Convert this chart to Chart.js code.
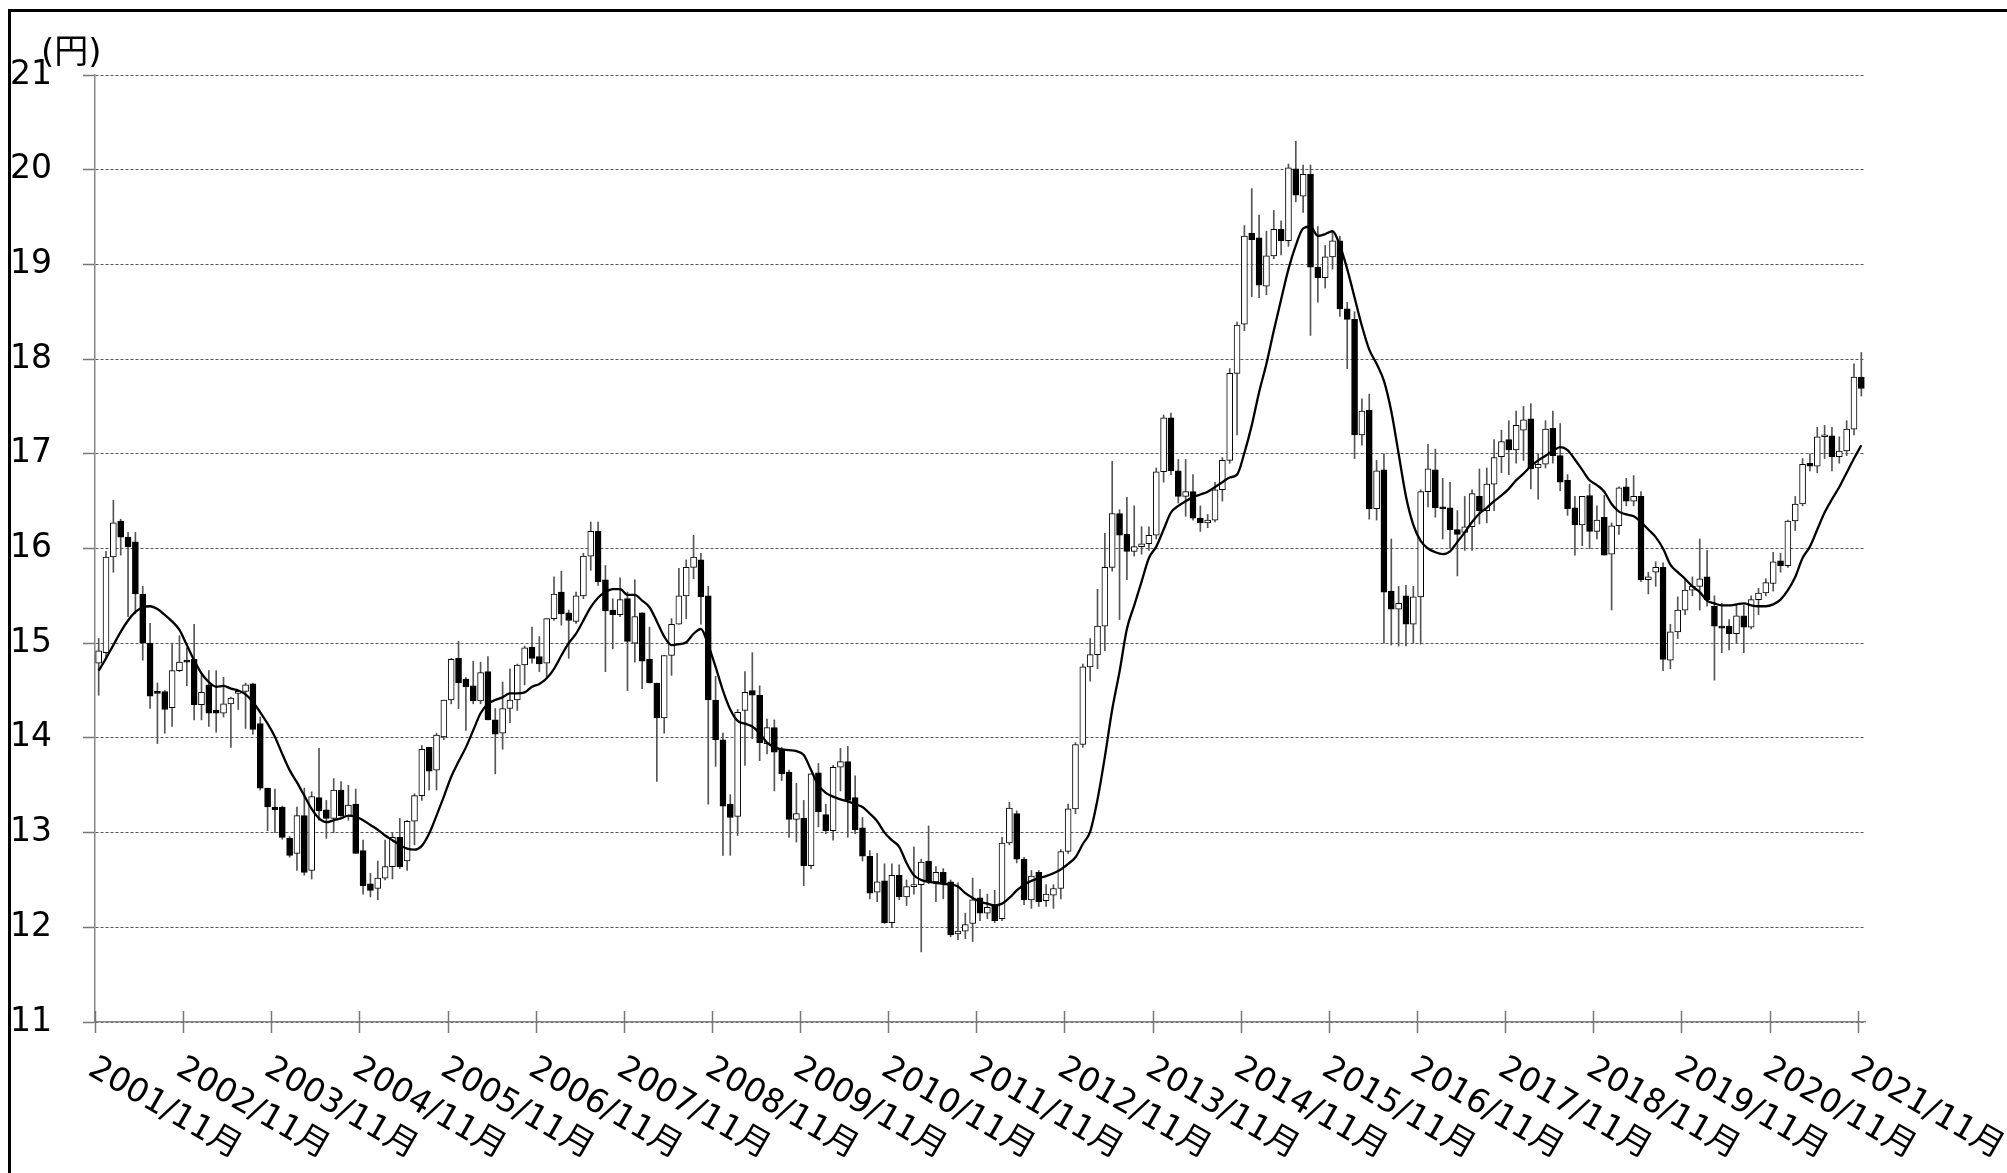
<!DOCTYPE html>
<html lang="ja">
<head>
<meta charset="utf-8">
<title>人民元/円 月足</title>
<script src="https://cdn.jsdelivr.net/npm/chart.js@4.4.1/dist/chart.umd.min.js"></script>
<style>
  html, body { margin: 0; padding: 0; background: #fff; }
  canvas { display: block; }
</style>
</head>
<body>
<canvas id="chart" width="2007" height="1173"></canvas>
<script>
'use strict';
// monthly candles, 2001/11 .. 2021/11 (index 0 = 2001/11)
let opens = [
  14.79, 14.90, 15.91, 16.29, 16.12, 16.07, 15.52, 15.00, 14.48, 14.49, 14.32, 14.71,
  14.81, 14.83, 14.35, 14.56, 14.29, 14.26, 14.36, 14.47, 14.49, 14.57, 14.15, 13.47,
  13.27, 13.27, 12.94, 12.78, 13.18, 12.60, 13.37, 13.24, 13.15, 13.45, 13.18, 13.30,
  12.81, 12.46, 12.41, 12.52, 12.64, 12.95, 12.70, 13.12, 13.39, 13.90, 13.66, 14.01,
  14.40, 14.84, 14.62, 14.55, 14.39, 14.70, 14.19, 14.05, 14.31, 14.40, 14.77, 14.96,
  14.86, 14.79, 15.26, 15.54, 15.32, 15.23, 15.50, 15.92, 16.18, 15.67, 15.35, 15.30,
  15.47, 15.00, 15.32, 14.83, 14.58, 14.21, 14.87, 15.20, 15.50, 15.80, 15.88, 15.50,
  14.40, 13.98, 13.30, 13.17, 14.29, 14.50, 14.45, 13.94, 14.11, 13.88, 13.64, 13.14,
  13.15, 12.65, 13.63, 13.19, 13.02, 13.69, 13.75, 13.37, 13.05, 12.75, 12.37, 12.49,
  12.05, 12.55, 12.32, 12.43, 12.45, 12.70, 12.48, 12.58, 12.48, 11.93, 11.96, 12.04,
  12.31, 12.15, 12.23, 12.09, 12.89, 13.20, 12.72, 12.29, 12.58, 12.28, 12.34, 12.41,
  12.80, 13.25, 13.93, 14.75, 14.88, 15.18, 15.80, 16.37, 16.15, 15.97, 16.02, 16.05,
  16.14, 16.81, 17.38, 16.82, 16.55, 16.60, 16.32, 16.27, 16.30, 16.62, 16.93, 17.85,
  18.37, 19.33, 19.28, 18.77, 19.09, 19.37, 19.25, 20.01, 19.72, 19.95, 18.97, 18.86,
  19.08, 19.25, 18.53, 18.42, 17.20, 17.46, 16.42, 16.83, 15.55, 15.36, 15.50, 15.20,
  15.49, 16.60, 16.83, 16.43, 16.43, 16.20, 16.17, 16.23, 16.55, 16.40, 16.68, 16.97,
  17.15, 17.04, 17.25, 17.37, 16.85, 16.89, 17.27, 16.98, 16.72, 16.43, 16.25, 16.56,
  16.18, 16.33, 15.94, 16.24, 16.65, 16.50, 16.55, 15.67, 15.75, 15.80, 14.82, 15.12,
  15.35, 15.56, 15.60, 15.70, 15.39, 15.18, 15.18, 15.10, 15.29, 15.17, 15.46, 15.53,
  15.63, 15.87, 15.82, 16.29, 16.47, 16.90, 16.87, 17.18, 17.19, 16.97, 17.03, 17.26,
  17.81
];
let highs = [
  15.05, 15.97, 16.51, 16.31, 16.17, 16.17, 15.60, 15.21, 14.58, 14.50, 15.00, 15.08,
  14.95, 15.20, 14.66, 14.71, 14.71, 14.64, 14.43, 14.50, 14.58, 14.58, 14.22, 13.47,
  13.46, 13.28, 12.96, 13.27, 13.47, 13.43, 13.89, 13.34, 13.57, 13.54, 13.50, 13.46,
  12.92, 12.57, 12.70, 12.92, 13.00, 13.15, 13.13, 13.41, 13.92, 13.90, 14.05, 14.40,
  14.84, 15.02, 14.64, 14.81, 14.80, 14.86, 14.31, 14.59, 14.73, 14.78, 14.97, 15.17,
  15.07, 15.26, 15.70, 15.76, 15.35, 15.54, 15.95, 16.28, 16.28, 15.82, 15.47, 15.69,
  15.54, 15.67, 15.32, 15.17, 14.58, 14.87, 15.26, 15.79, 15.88, 16.14, 15.95, 15.60,
  14.65, 14.05, 13.40, 14.30, 14.70, 14.90, 14.55, 14.20, 14.19, 13.90, 13.66, 13.52,
  13.34, 13.62, 13.73, 13.30, 13.71, 13.89, 13.91, 13.60, 13.16, 12.81, 12.78, 12.67,
  12.67, 12.66, 12.50, 12.85, 12.72, 13.07, 12.64, 12.62, 12.50, 12.47, 12.15, 12.52,
  12.40, 12.35, 12.39, 12.95, 13.32, 13.23, 12.74, 12.60, 12.60, 12.45, 12.45, 12.82,
  13.30, 13.95, 14.78, 15.05, 15.57, 16.16, 16.92, 16.41, 16.54, 16.45, 16.23, 16.23,
  16.85, 17.41, 17.43, 16.94, 16.94, 16.78, 16.45, 16.36, 16.70, 16.96, 17.90, 18.39,
  19.41, 19.80, 19.52, 19.35, 19.57, 19.46, 20.06, 20.30, 20.05, 20.05, 19.40, 19.20,
  19.35, 19.30, 18.60, 18.50, 17.58, 17.63, 16.93, 17.00, 16.10, 15.60, 15.61, 15.60,
  16.62, 17.10, 17.05, 16.74, 16.70, 16.40, 16.55, 16.62, 16.84, 16.85, 17.15, 17.25,
  17.35, 17.45, 17.50, 17.53, 17.00, 17.35, 17.45, 17.32, 16.78, 16.55, 16.55, 16.68,
  16.45, 16.56, 16.27, 16.65, 16.74, 16.77, 16.60, 15.75, 15.86, 15.85, 15.20, 15.49,
  15.68, 15.70, 16.10, 15.98, 15.50, 15.42, 15.25, 15.40, 15.40, 15.50, 15.58, 15.68,
  15.96, 15.95, 16.30, 16.55, 16.95, 17.00, 17.28, 17.30, 17.28, 17.18, 17.35, 17.95,
  18.07
];
let lows = [
  14.45, 14.85, 15.75, 15.93, 15.28, 15.31, 14.82, 14.31, 13.94, 14.05, 14.12, 14.70,
  14.55, 14.19, 14.19, 14.12, 14.06, 14.22, 13.90, 14.30, 14.10, 14.04, 13.45, 13.02,
  13.00, 12.93, 12.74, 12.60, 12.55, 12.51, 13.13, 12.94, 13.00, 13.17, 13.13, 12.78,
  12.35, 12.32, 12.29, 12.50, 12.51, 12.62, 12.60, 12.87, 13.34, 13.45, 13.45, 13.98,
  14.36, 14.31, 14.08, 14.36, 14.36, 14.19, 13.62, 13.88, 14.16, 14.29, 14.56, 14.79,
  14.70, 14.64, 15.24, 15.19, 14.84, 15.21, 15.47, 15.77, 15.61, 14.70, 14.94, 15.28,
  14.50, 14.80, 14.52, 14.58, 13.54, 14.05, 14.66, 15.20, 15.26, 15.68, 15.20, 13.30,
  13.70, 12.76, 12.76, 12.97, 13.71, 13.99, 13.76, 13.83, 13.44, 13.55, 12.95, 12.90,
  12.44, 12.62, 13.06, 12.99, 12.92, 13.44, 12.95, 12.99, 12.70, 12.30, 12.27, 12.04,
  12.00, 12.29, 12.23, 12.35, 11.74, 12.46, 12.27, 12.30, 11.90, 11.87, 11.88, 11.85,
  12.07, 12.09, 12.05, 12.07, 12.87, 12.68, 12.24, 12.20, 12.22, 12.22, 12.20, 12.30,
  12.78, 13.20, 13.90, 14.60, 14.73, 14.92, 15.76, 15.25, 15.67, 15.92, 15.94, 15.98,
  16.10, 16.70, 16.78, 16.48, 16.34, 16.30, 16.18, 16.22, 16.28, 16.50, 16.90, 17.20,
  18.30, 18.66, 18.65, 18.68, 19.06, 19.10, 19.19, 19.66, 19.55, 18.25, 18.60, 18.75,
  18.95, 18.45, 17.90, 16.95, 17.09, 16.31, 16.30, 15.00, 14.98, 14.97, 14.97, 15.00,
  14.99, 16.44, 16.33, 16.10, 16.00, 15.71, 15.98, 15.98, 16.26, 16.27, 16.40, 16.80,
  16.78, 16.90, 16.93, 16.63, 16.52, 16.85, 16.90, 16.61, 16.35, 15.93, 16.03, 16.00,
  16.10, 15.93, 15.35, 16.15, 16.45, 16.45, 15.65, 15.52, 15.60, 14.71, 14.73, 15.05,
  15.30, 15.50, 15.35, 15.39, 14.61, 14.90, 14.93, 15.00, 14.90, 15.15, 15.30, 15.50,
  15.55, 15.75, 15.80, 16.19, 16.45, 16.82, 16.80, 16.95, 16.82, 16.90, 16.98, 17.20,
  17.61
];
let closes = [
  14.92, 15.91, 16.27, 16.12, 16.02, 15.52, 15.00, 14.44, 14.47, 14.30, 14.71, 14.80,
  14.80, 14.35, 14.48, 14.26, 14.26, 14.36, 14.42, 14.49, 14.56, 14.09, 13.47, 13.27,
  13.24, 12.95, 12.76, 13.18, 12.58, 13.38, 13.23, 13.15, 13.45, 13.18, 13.29, 12.78,
  12.44, 12.39, 12.52, 12.64, 12.95, 12.64, 13.12, 13.39, 13.88, 13.65, 14.03, 14.40,
  14.83, 14.58, 14.54, 14.39, 14.69, 14.19, 14.04, 14.31, 14.40, 14.77, 14.95, 14.84,
  14.78, 15.26, 15.52, 15.31, 15.24, 15.50, 15.92, 16.18, 15.65, 15.34, 15.30, 15.46,
  15.02, 15.28, 14.81, 14.58, 14.21, 14.87, 15.20, 15.50, 15.80, 15.91, 15.49, 14.40,
  13.98, 13.28, 13.16, 14.27, 14.48, 14.45, 13.95, 14.11, 13.85, 13.62, 13.14, 13.20,
  12.65, 13.62, 13.22, 13.02, 13.69, 13.75, 13.34, 13.03, 12.75, 12.36, 12.48, 12.05,
  12.55, 12.32, 12.43, 12.45, 12.69, 12.48, 12.58, 12.46, 11.92, 11.96, 12.03, 12.29,
  12.15, 12.21, 12.07, 12.89, 13.26, 12.72, 12.29, 12.54, 12.27, 12.35, 12.41, 12.80,
  13.25, 13.93, 14.75, 14.88, 15.18, 15.80, 16.37, 16.14, 15.97, 16.02, 16.05, 16.14,
  16.81, 17.38, 16.82, 16.55, 16.60, 16.32, 16.27, 16.30, 16.62, 16.93, 17.85, 18.36,
  19.30, 19.26, 18.78, 19.09, 19.37, 19.25, 20.02, 19.73, 19.95, 18.97, 18.86, 19.08,
  19.25, 18.53, 18.42, 17.20, 17.45, 16.42, 16.82, 15.54, 15.36, 15.42, 15.20, 15.49,
  16.60, 16.84, 16.43, 16.42, 16.20, 16.15, 16.23, 16.58, 16.40, 16.68, 16.96, 17.13,
  17.04, 17.30, 17.36, 16.84, 16.89, 17.26, 16.98, 16.70, 16.42, 16.25, 16.55, 16.18,
  16.30, 15.93, 16.24, 16.64, 16.50, 16.55, 15.67, 15.70, 15.80, 14.83, 15.12, 15.35,
  15.56, 15.60, 15.68, 15.46, 15.18, 15.16, 15.10, 15.29, 15.17, 15.46, 15.53, 15.64,
  15.86, 15.82, 16.29, 16.47, 16.89, 16.87, 17.18, 17.19, 16.97, 17.03, 17.26, 17.81,
  17.69
];
// moving average line
let maValues = [
  14.71, 14.84, 14.98, 15.12, 15.24, 15.33, 15.38, 15.39, 15.36, 15.30, 15.23, 15.14,
  14.98, 14.82, 14.68, 14.59, 14.54, 14.55, 14.52, 14.50, 14.46, 14.38, 14.27, 14.15,
  14.01, 13.83, 13.66, 13.53, 13.39, 13.25, 13.15, 13.11, 13.13, 13.15, 13.18, 13.17,
  13.13, 13.08, 13.03, 12.97, 12.92, 12.87, 12.83, 12.82, 12.86, 12.99, 13.18, 13.38,
  13.59, 13.75, 13.90, 14.08, 14.26, 14.36, 14.40, 14.43, 14.47, 14.47, 14.48, 14.54,
  14.57, 14.63, 14.73, 14.87, 15.00, 15.10, 15.24, 15.38, 15.48, 15.54, 15.57, 15.57,
  15.51, 15.51, 15.45, 15.38, 15.23, 15.07, 14.98, 14.99, 15.01, 15.10, 15.15, 14.98,
  14.75, 14.50, 14.30, 14.18, 14.15, 14.12, 14.05, 13.95, 13.90, 13.88, 13.87, 13.86,
  13.82, 13.66, 13.50, 13.42, 13.38, 13.35, 13.33, 13.30, 13.27, 13.20, 13.12, 13.00,
  12.92, 12.85, 12.68, 12.55, 12.50, 12.48, 12.47, 12.46, 12.45, 12.43, 12.36, 12.31,
  12.27, 12.25, 12.23, 12.25, 12.31, 12.39, 12.45, 12.49, 12.52, 12.54, 12.57, 12.61,
  12.67, 12.74, 12.88, 13.01, 13.35, 13.80, 14.30, 14.70, 15.15, 15.40, 15.65, 15.90,
  16.02, 16.20, 16.38, 16.45, 16.50, 16.54, 16.57, 16.60, 16.65, 16.70, 16.75, 16.78,
  17.01, 17.30, 17.65, 17.95, 18.30, 18.63, 18.95, 19.20, 19.38, 19.40, 19.30, 19.32,
  19.35, 19.20, 18.95, 18.65, 18.35, 18.10, 17.95, 17.77, 17.45, 17.00, 16.55, 16.25,
  16.08, 16.00, 15.96, 15.94, 15.97, 16.07, 16.17, 16.28, 16.37, 16.43, 16.50, 16.56,
  16.63, 16.72, 16.79, 16.87, 16.93, 16.98, 17.03, 17.07, 17.04, 16.94, 16.83, 16.72,
  16.67, 16.60, 16.47, 16.39, 16.36, 16.34, 16.28, 16.20, 16.12, 16.00, 15.83, 15.75,
  15.68, 15.60, 15.54, 15.45, 15.42, 15.40, 15.40, 15.41, 15.42, 15.40, 15.39, 15.39,
  15.41, 15.46, 15.56, 15.70, 15.90, 16.02, 16.20, 16.38, 16.52, 16.65, 16.80, 16.95,
  17.09
];
let tickLabels = ['2001/11月', '2002/11月', '2003/11月', '2004/11月', '2005/11月', '2006/11月', '2007/11月',
  '2008/11月', '2009/11月', '2010/11月', '2011/11月', '2012/11月', '2013/11月', '2014/11月',
  '2015/11月', '2016/11月', '2017/11月', '2018/11月', '2019/11月', '2020/11月', '2021/11月'];
let yMin = 11;
let yMax = 21;
let unitLabel = '(円)';

let fontFamily = '"DejaVu Sans", "Noto Sans CJK JP", sans-serif';

let bodies = [];
let wicks = [];
let bodyColors = [];
let maPoints = [];
for (let i = 0; i < opens.length; i++) {
  bodies.push({ x: i + 0.5, y: [opens[i], closes[i]] });
  wicks.push({ x: i + 0.5, y: [lows[i], highs[i]] });
  bodyColors.push(closes[i] >= opens[i] ? '#ffffff' : '#000000');
  maPoints.push({ x: i + 0.5, y: maValues[i] });
}

let decor = {
  id: 'decor',
  beforeDraw(chart) {
    let ctx = chart.ctx;
    ctx.save();
    ctx.fillStyle = '#fff';
    ctx.fillRect(0, 0, chart.width, chart.height);
    ctx.restore();
  },
  afterDraw(chart) {
    let ctx = chart.ctx;
    let xs = chart.scales.x;
    let bottom = chart.chartArea.bottom;
    ctx.save();
    ctx.strokeStyle = '#777';
    ctx.lineWidth = 1.5;
    for (let k = 0; k < tickLabels.length; k++) {
      let x = Math.round(xs.getPixelForValue(k * 12)) + 0.5;
      ctx.beginPath();
      ctx.moveTo(x, bottom - 11);
      ctx.lineTo(x, bottom + 11);
      ctx.stroke();
    }
    ctx.fillStyle = '#000';
    ctx.font = '33px ' + fontFamily;
    ctx.textAlign = 'left';
    ctx.textBaseline = 'top';
    for (let k = 0; k < tickLabels.length; k++) {
      let x = xs.getPixelForValue(k * 12);
      ctx.save();
      ctx.translate(x + 4, bottom + 30);
      ctx.rotate(30 * Math.PI / 180);
      ctx.fillText(tickLabels[k], 0, 0);
      ctx.restore();
    }
    // unit label
    ctx.font = '34px ' + fontFamily;
    ctx.textBaseline = 'alphabetic';
    ctx.fillText(unitLabel, 41, 63);
    // frame (top and left edges)
    ctx.fillStyle = '#000';
    ctx.fillRect(8, 9, chart.width - 8, 3);
    ctx.fillRect(8, 9, 3, chart.height - 9);
    ctx.restore();
  }
};

let ctx = document.getElementById('chart').getContext('2d');
let chart = new Chart(ctx, {
  type: 'bar',
  data: {
    datasets: [{
      type: 'line',
      label: 'MA',
      data: maPoints,
      borderColor: '#000',
      borderWidth: 2.3,
      pointRadius: 0,
      cubicInterpolationMode: 'monotone',
      order: 1
    }, {
      label: 'body',
      data: bodies,
      backgroundColor: bodyColors,
      borderColor: '#000',
      borderWidth: 1,
      borderSkipped: false,
      barThickness: 6,
      minBarLength: 2,
      grouped: false,
      order: 2
    }, {
      label: 'wick',
      data: wicks,
      backgroundColor: '#555',
      borderWidth: 0,
      barThickness: 1,
      grouped: false,
      order: 3
    }]
  },
  options: {
    responsive: false,
    animation: false,
    layout: { padding: { top: 75, right: 142, left: 0, bottom: 0 } },
    plugins: { legend: { display: false }, tooltip: { enabled: false } },
    scales: {
      x: {
        type: 'linear',
        min: 0,
        max: 241,
        offset: false,
        grid: { display: false },
        border: { display: true, color: '#888', width: 1.5 },
        ticks: { display: false },
        afterFit: function (scale) { scale.height = 151; }
      },
      y: {
        min: yMin,
        max: yMax,
        ticks: { stepSize: 1, color: '#000', padding: 31, font: { family: fontFamily, size: 33 } },
        grid: { color: '#555', lineWidth: 1, tickLength: 12, tickColor: '#777', tickWidth: 1.5 },
        border: { color: '#888', width: 1.5, dash: [3, 2] },
        afterFit: function (scale) { scale.width = 95; }
      }
    }
  },
  plugins: [decor]
});
</script>
</body>
</html>
